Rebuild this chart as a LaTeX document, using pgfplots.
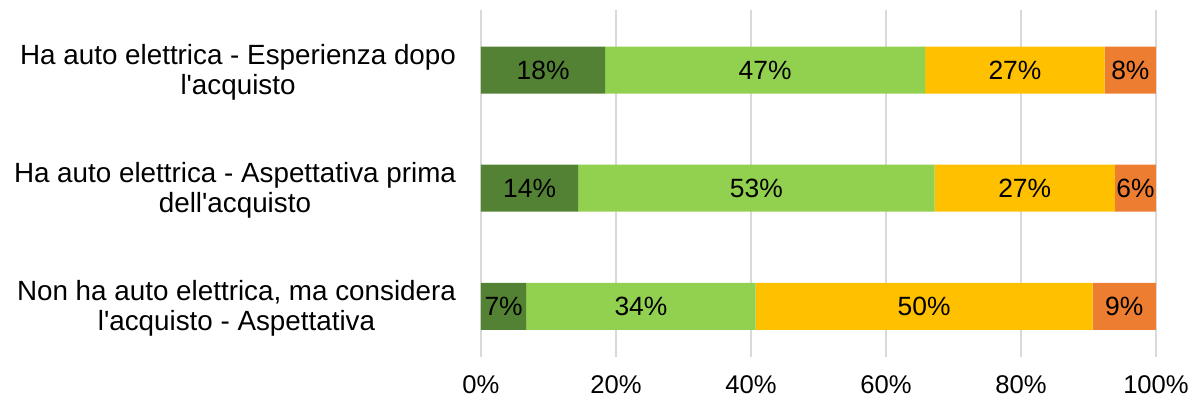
\documentclass[border=0pt]{standalone}
\usepackage{fontspec}
\setmainfont{Liberation Sans}
\usepackage{pgfplots}
\usepackage{pgfplotstable}
\pgfplotsset{compat=1.18}
\usetikzlibrary{calc}
\definecolor{dg}{HTML}{548235}
\definecolor{lg}{HTML}{92D050}
\definecolor{gold}{HTML}{FFC000}
\definecolor{org}{HTML}{ED7D31}
\definecolor{gridc}{HTML}{D9D9D9}

\pgfplotstableread{
y v
2 18.4
1 14.4
0 6.7
}\tA
\pgfplotstableread{
y v
2 47.4
1 52.8
0 34.0
}\tB
\pgfplotstableread{
y v
2 26.6
1 26.7
0 49.9
}\tC
\pgfplotstableread{
y v
2 7.6
1 6.1
0 9.4
}\tD

\begin{document}
\begin{tikzpicture}
\begin{axis}[
  scale only axis,
  width=337.5pt, height=173.5pt,
  xbar stacked,
  bar width=23.5pt,
  xmin=0, xmax=100,
  ymin=-0.43, ymax=2.51,
  xtick={0,20,40,60,80,100},
  xticklabels={0\%,20\%,40\%,60\%,80\%,100\%},
  ytick={0,1,2},
  yticklabels={{Non ha auto elettrica, ma considera\\l\textquotesingle acquisto - Aspettativa},
               {Ha auto elettrica - Aspettativa prima\\dell\textquotesingle acquisto},
               {Ha auto elettrica - Esperienza dopo\\l\textquotesingle acquisto}},
  yticklabel style={align=center, font=\fontsize{13.9}{15}\selectfont, xshift=-9pt, yshift=-1pt},
  xticklabel style={font=\fontsize{12.8}{15}\selectfont, yshift=-6pt},
  xmajorgrids, major grid style={gridc, line width=0.6pt},
  axis line style={draw=none},
  major tick length=0pt,
  nodes near coords={\pgfmathprintnumber[fixed,precision=0,assume math mode=true]{\pgfplotspointmeta}\%},
  every node near coord/.append style={anchor=center, font=\fontsize{13.2}{15}\selectfont, text=black},
  point meta=explicit,
]
\addplot[fill=dg, draw=none] table[x=v, y=y, meta=v]{\tA};
\addplot[fill=lg, draw=none] table[x=v, y=y, meta=v]{\tB};
\addplot[fill=gold, draw=none] table[x=v, y=y, meta=v]{\tC};
\addplot[fill=org, draw=none] table[x=v, y=y, meta=v]{\tD};
\coordinate (bl) at (rel axis cs:0,0);
\coordinate (tr) at (rel axis cs:1,1);
\end{axis}
\pgfresetboundingbox
\path ($(bl)+(-240.5pt,-25.5pt)$) rectangle ($(tr)+(20pt,5pt)$);
\end{tikzpicture}
\end{document}
